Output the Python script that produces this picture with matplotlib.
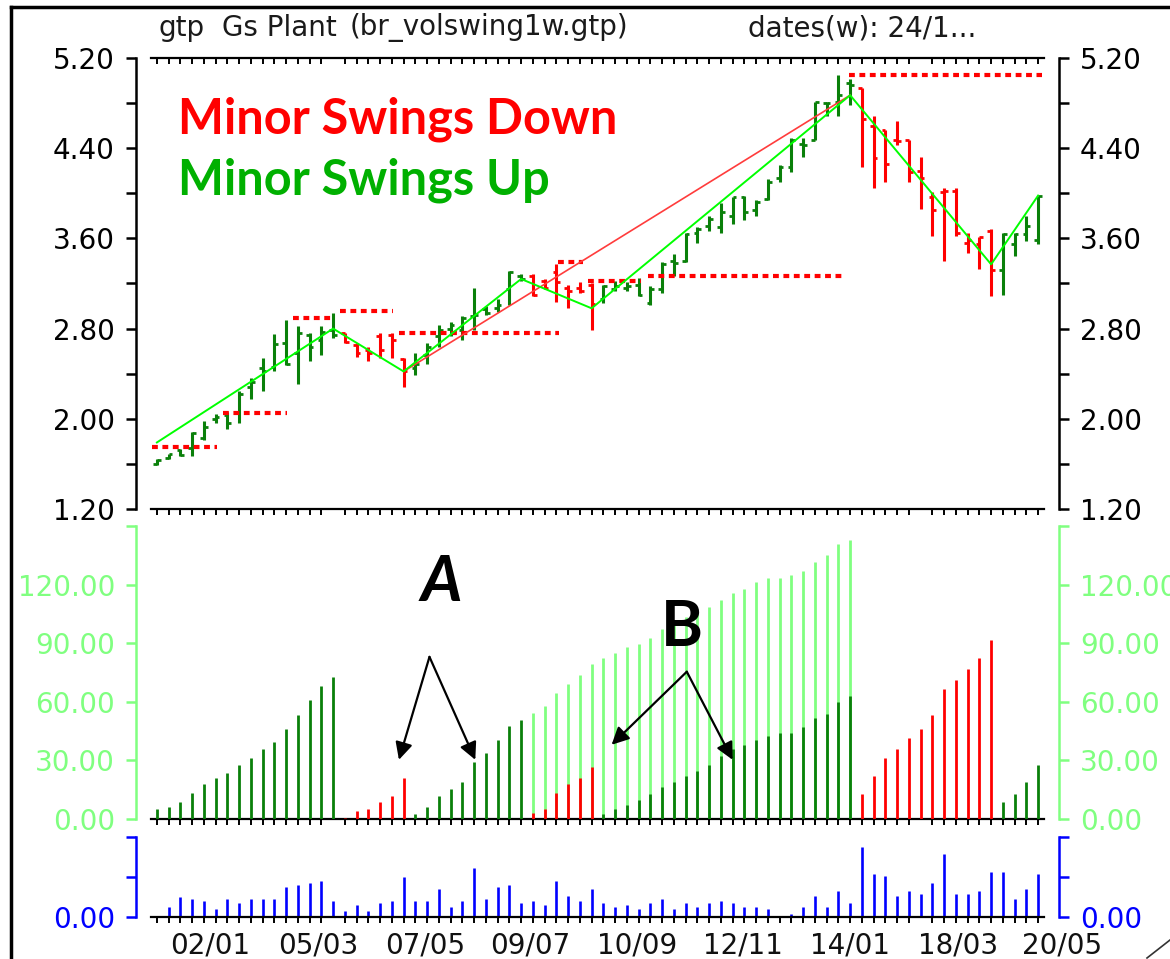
import matplotlib
matplotlib.use('Agg')
import matplotlib.pyplot as plt
from matplotlib import transforms
from matplotlib.lines import Line2D
from matplotlib.patches import Rectangle

# ---- price bars (weekly) ----
bar_low = [1.59, 1.64, 1.67, 1.67, 1.81, 1.96, 1.91, 1.96, 2.18, 2.25,
           2.42, 2.48, 2.31, 2.51, 2.57, 2.72, 2.67, 2.55, 2.51, 2.54,
           2.54, 2.28, 2.39, 2.49, 2.64, 2.73, 2.70, 2.79, 2.92, 2.95,
           3.01, 3.22, 3.09, 3.15, 3.04, 2.98, 3.12, 2.79, 3.03, 3.13,
           3.13, 3.09, 3.01, 3.12, 3.27, 3.39, 3.56, 3.67, 3.65, 3.73,
           3.76, 3.80, 3.94, 4.10, 4.19, 4.32, 4.47, 4.69, 4.69, 4.78,
           4.23, 4.05, 4.10, 4.43, 4.10, 3.86, 3.62, 3.40, 3.62, 3.47,
           3.33, 3.09, 3.10, 3.44, 3.58, 3.55]
bar_high = [1.64, 1.69, 1.73, 1.88, 1.98, 2.04, 2.06, 2.25, 2.36, 2.54,
            2.75, 2.88, 2.82, 2.76, 2.82, 2.94, 2.76, 2.67, 2.64, 2.76,
            2.76, 2.54, 2.58, 2.67, 2.83, 2.86, 2.91, 3.16, 3.00, 3.06,
            3.31, 3.28, 3.28, 3.24, 3.37, 3.19, 3.21, 3.20, 3.19, 3.22,
            3.21, 3.25, 3.18, 3.39, 3.46, 3.65, 3.70, 3.80, 3.91, 3.97,
            3.98, 3.94, 4.13, 4.25, 4.49, 4.49, 4.81, 4.81, 5.05, 5.01,
            4.93, 4.69, 4.56, 4.64, 4.47, 4.32, 4.01, 4.05, 4.05, 3.65,
            3.61, 3.68, 3.65, 3.65, 3.80, 3.98]
bar_open = [1.60, 1.65, 1.72, 1.74, 1.83, 2.00, 2.03, 2.05, 2.28, 2.45,
            2.46, 2.67, 2.58, 2.745, 2.70, 2.79, 2.76, 2.655, 2.61, 2.73,
            2.745, 2.53, 2.45, 2.57, 2.73, 2.80, 2.79, 2.91, 2.97, 2.98,
            3.15, 3.27, 3.27, 3.22, 3.30, 3.16, 3.16, 3.19, 3.06, 3.15,
            3.16, 3.19, 3.03, 3.15, 3.40, 3.40, 3.65, 3.71, 3.70, 3.80,
            3.97, 3.85, 3.95, 4.14, 4.23, 4.44, 4.47, 4.80, 4.81, 4.98,
            4.93, 4.60, 4.56, 4.47, 4.47, 4.20, 3.97, 4.01, 4.02, 3.56,
            3.55, 3.67, 3.32, 3.55, 3.64, 3.59]
bar_close = [1.635, 1.69, 1.68, 1.87, 1.93, 2.015, 1.96, 2.22, 2.33, 2.42,
             2.66, 2.49, 2.76, 2.64, 2.77, 2.745, 2.685, 2.58, 2.58, 2.61,
             2.70, 2.42, 2.49, 2.64, 2.79, 2.83, 2.89, 2.92, 2.94, 3.01,
             3.30, 3.24, 3.10, 3.16, 3.21, 3.13, 3.13, 3.02, 3.18, 3.18,
             3.18, 3.10, 3.15, 3.37, 3.385, 3.64, 3.68, 3.77, 3.83, 3.97,
             3.83, 3.92, 4.10, 4.23, 4.47, 4.43, 4.81, 4.80, 4.87, 4.96,
             4.66, 4.31, 4.26, 4.46, 4.19, 4.14, 3.85, 4.02, 3.65, 3.59,
             3.61, 3.32, 3.64, 3.64, 3.71, 3.98]
# minor swing direction of every bar: 1 = up, 0 = down
bar_swing = [1] * 16 + [0] * 6 + [1] * 10 + [0] * 6 + [1] * 22 + [0] * 12 + [1] * 4

# swing lines (bar index, price)
minor_swing_pts = [(0, 1.79), (15, 2.80), (21, 2.42), (31, 3.24), (37, 2.98),
                   (59, 4.87), (71, 3.37), (75, 3.98)]
major_swing_pts = [(21, 2.42), (59, 4.87)]

# swing high levels: (first bar, last bar, price)
swing_levels = [(-0.4, 5.1, 1.754), (5.6, 11.1, 2.05), (11.6, 14.9, 2.89),
                (15.6, 20.1, 2.953), (20.6, 34.2, 2.765), (34.1, 36.3, 3.39),
                (36.7, 41.2, 3.22), (41.8, 58.3, 3.265), (58.9, 75.3, 5.05)]

# ---- cumulative swing volume: (first bar, direction, values) ----
minor_swing_vol = [
    (0, 1, [5.0, 6.3, 8.6, 13.2, 17.7, 21.1, 23.5, 27.9, 31.4, 36.0, 39.4,
            46.3, 53.1, 61.0, 68.0, 72.5]),
    (16, 0, [0.5, 3.9, 5.1, 8.6, 12.0, 21.1]),
    (22, 1, [2.7, 6.2, 12.0, 15.4, 18.9, 29.1, 33.8, 40.6, 47.5, 50.9]),
    (32, 0, [3.1, 5.1, 13.2, 17.7, 21.0, 26.8]),
    (38, 1, [2.7, 5.1, 7.4, 9.6, 13.0, 16.4, 18.8, 22.2, 24.4, 27.9, 32.5,
             35.9, 38.1, 40.3, 42.7, 43.8, 43.8, 47.2, 51.8, 54.0, 59.8, 63.2]),
    (60, 0, [13.0, 22.2, 31.3, 35.9, 41.5, 46.2, 53.0, 66.7, 71.1, 76.9,
             82.6, 91.6]),
    (72, 1, [8.5, 13.0, 18.8, 27.9]),
]
major_up_start = 32
major_up_vol = [54.3, 57.6, 64.6, 68.9, 73.7, 79.1, 82.6, 84.8, 88.2, 89.4,
                92.8, 97.4, 100.9, 103.5, 106.5, 108.7, 112.1, 115.6, 117.9,
                121.4, 123.6, 123.6, 124.8, 127.0, 131.6, 135.0, 140.7, 142.9]

# ---- weekly volume ----
volume = [0.03, 0.25, 0.51, 0.46, 0.41, 0.20, 0.46, 0.36, 0.46, 0.46,
          0.46, 0.74, 0.79, 0.86, 0.91, 0.41, 0.14, 0.30, 0.14, 0.36,
          0.41, 1.01, 0.41, 0.41, 0.69, 0.25, 0.41, 1.23, 0.46, 0.74,
          0.79, 0.36, 0.41, 0.30, 0.91, 0.52, 0.41, 0.69, 0.36, 0.25,
          0.30, 0.20, 0.36, 0.46, 0.20, 0.36, 0.25, 0.36, 0.41, 0.36,
          0.25, 0.25, 0.20, 0.00, 0.08, 0.25, 0.52, 0.25, 0.64, 0.36,
          1.74, 1.07, 1.02, 0.52, 0.64, 0.58, 0.86, 1.57, 0.58, 0.58,
          0.64, 1.13, 1.13, 0.46, 0.69, 1.07]

date_labels = ['02/01', '05/03', '07/05', '09/07', '10/09', '12/11',
               '14/01', '18/03', '20/05']
date_pos = [4.5, 13.7, 22.8, 31.8, 40.9, 49.9, 59, 68.2, 77]

price_major = [1.2, 2.0, 2.8, 3.6, 4.4, 5.2]
price_minor = [1.6, 2.4, 3.2, 4.0, 4.8]
vol_ticks = [0, 30, 60, 90, 120, 150]

title_parts = [('gtp', 158), ('Gs Plant', 222), ('(br_volswing1w.gtp)', 350),
               ('dates(w): 24/1...', 748)]

RED = '#ff0000'
DKGREEN = '#0a800a'
LTGREEN = '#80ff80'
BLUE = '#0000ff'

W, H = 1170, 959
fig = plt.figure(figsize=(W / 100, H / 100), dpi=100)
plt.rcParams['font.family'] = ['DejaVu Sans']


def fx(px):
    return px / W


def fy(py):
    return 1 - py / H


n = len(bar_low)
xs = list(range(n))
xticks = [i for i in xs if i not in (15, 65)]
x0, x1 = 151, 1044

ax1 = fig.add_axes([fx(x0), fy(509), (x1 - x0) / W, (509 - 58) / H])
ax2 = fig.add_axes([fx(x0), fy(819), (x1 - x0) / W, (819 - 526) / H])
ax3 = fig.add_axes([fx(x0), fy(917), (x1 - x0) / W, (917 - 837) / H])


def style(ax, color, ticks, labels, ylim):
    ax.set_xlim(-0.5, n - 0.5)
    ax.set_ylim(*ylim)
    ax.spines['top'].set_visible(False)
    for side in ['left', 'right']:
        ax.spines[side].set_position(('outward', 11))
        ax.spines[side].set_color(color)
        ax.spines[side].set_linewidth(1.8)
    ax.spines['bottom'].set_linewidth(1.6)
    ax.set_xticks(xticks)
    ax.tick_params(axis='x', direction='out', length=4.5, width=1.4,
                   labelbottom=False)
    ax.set_yticks(ticks)
    ax.set_yticklabels(labels)
    ax.tick_params(axis='y', which='both', left=True, right=True,
                   labelleft=True, labelright=True, length=7, width=1.8,
                   color=color, labelcolor=color, pad=8, labelsize=20)


style(ax1, 'black', price_major, ['%.2f' % v for v in price_major], (1.2, 5.2))
ax1.set_yticks(price_minor, minor=True)
top = ax1.secondary_xaxis('top')
top.set_xticks(xticks)
top.tick_params(direction='in', length=4.5, width=1.4, labeltop=False)
top.spines['top'].set_linewidth(1.6)

style(ax2, LTGREEN, vol_ticks, ['%.2f' % v for v in vol_ticks[:-1]] + [''], (0, 150))
style(ax3, BLUE, [0, 1, 2], ['0.00', '', ''], (0, 2))

# price bars
for i in xs:
    c = DKGREEN if bar_swing[i] else RED
    ax1.vlines(i, bar_low[i], bar_high[i], color=c, lw=2.2)
    ax1.hlines(bar_open[i], i - 0.32, i, color=c, lw=2.0)
    ax1.hlines(bar_close[i], i, i + 0.32, color=c, lw=2.0)

for a, b, p in swing_levels:
    ax1.hlines(p, a, b, color=RED, lw=3.0, linestyles=(0, (1.4, 1.1)), zorder=3)

ax1.plot(*zip(*major_swing_pts), color='#ff3c3c', lw=1.2, zorder=4)
ax1.plot(*zip(*minor_swing_pts), color='#00ff00', lw=1.4, zorder=5)

ax1.text(1.8, 4.66, 'Minor Swings Down', color=RED, fontsize=35,
         fontweight='bold', family='Lato', va='center')
ax1.text(1.8, 4.12, 'Minor Swings Up', color='#00b000', fontsize=35,
         fontweight='bold', family='Lato', va='center')

# swing volume
ax2.vlines(range(major_up_start, major_up_start + len(major_up_vol)), 0,
           major_up_vol, color=LTGREEN, lw=2.0, zorder=2)
for start, up, vals in minor_swing_vol:
    ax2.vlines(range(start, start + len(vals)), 0, vals,
               color=DKGREEN if up else RED, lw=2.0, zorder=3)

ax2.text(24.2, 121, 'A', fontsize=46, fontweight='bold', style='italic',
         family='Lato', ha='center', va='center')
ax2.text(44.7, 98, 'B', fontsize=46, fontweight='bold', family='Lato',
         ha='center', va='center')
arrow = dict(arrowstyle='-|>', color='black', lw=1.6, mutation_scale=26,
             shrinkA=0, shrinkB=0)
for tip in [(20.6, 30.3), (27.1, 30.3)]:
    ax2.annotate('', xy=tip, xytext=(23.2, 83), arrowprops=arrow)
for tip in [(38.7, 38), (49.0, 30.3)]:
    ax2.annotate('', xy=tip, xytext=(45.1, 75.4), arrowprops=arrow)

# volume
ax3.vlines(xs, 0, volume, color=BLUE, lw=1.9)
tr = transforms.blended_transform_factory(ax3.transData, fig.transFigure)
for p, lab in zip(date_pos, date_labels):
    ax3.text(p, fy(946), lab, transform=tr, ha='center', va='center',
             fontsize=20, color='#111111', clip_on=False)

for txt, px in title_parts:
    fig.text(fx(px), fy(28), txt, fontsize=20, va='center', color='#1a1a1a')

# window frame
fig.add_artist(Rectangle((0, 0), fx(10), 1, transform=fig.transFigure,
                         color='white', zorder=20))
fig.add_artist(Line2D([fx(11), fx(11)], [0, fy(7)], transform=fig.transFigure,
                      color='black', lw=2.5, zorder=21))
fig.add_artist(Line2D([fx(11), 1], [fy(7), fy(7)], transform=fig.transFigure,
                      color='black', lw=2.5, zorder=21))
fig.add_artist(Line2D([fx(1147), 1], [fy(958), fy(940)],
                      transform=fig.transFigure, color='#333333', lw=1.2,
                      zorder=21))

fig.savefig('out.png', dpi=100)
